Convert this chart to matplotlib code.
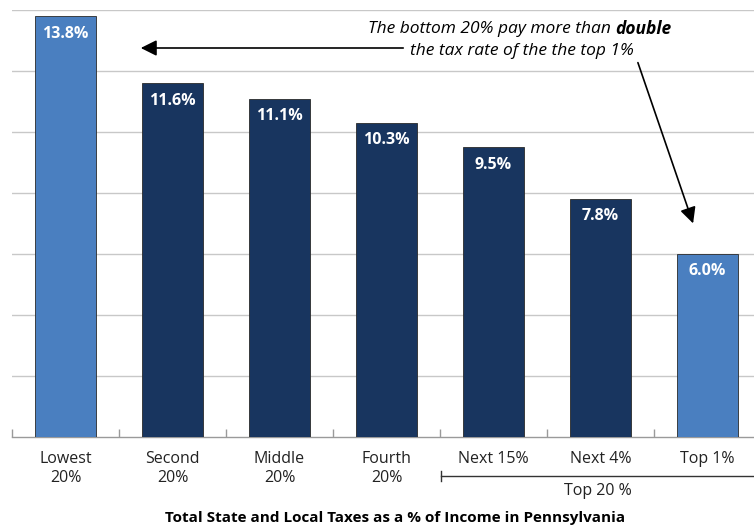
import numpy as np
import matplotlib
matplotlib.use("Agg")
import matplotlib.pyplot as plt

# data
categories = ["Lowest\n20%", "Second\n20%", "Middle\n20%", "Fourth\n20%",
              "Next 15%", "Next 4%", "Top 1%"]
tax_rates = [13.8, 11.6, 11.1, 10.3, 9.5, 7.8, 6.0]
highlight = [True, False, False, False, False, False, True]

LIGHT = "#4a7fc0"
DARK = "#18355f"

plt.rcParams["font.family"] = ["Open Sans", "DejaVu Sans"]

W, H = 754, 529
fig = plt.figure(figsize=(W / 100, H / 100), dpi=100)

# axes spans past the right edge, like the original
ax_left, ax_right = 12, 761
ax_bottom, ax_top = 436.7, 10.4   # pixel rows of 0% and 14%
ax = fig.add_axes([ax_left / W, (H - ax_bottom) / H,
                   (ax_right - ax_left) / W, (ax_bottom - ax_top) / H])

x = np.arange(len(categories))
colors = [LIGHT if h else DARK for h in highlight]
ax.bar(x, tax_rates, width=0.57, color=colors, edgecolor="#2a2a2a",
       linewidth=0.6, zorder=3)

for xi, v in zip(x, tax_rates):
    ax.text(xi, v - 0.3, f"{v:.1f}%", ha="center", va="top", color="white",
            fontsize=11.5, fontweight="bold", zorder=4)

ax.set_xlim(-0.5, len(categories) - 0.5)
ax.set_ylim(0, 14)
ax.set_yticks(np.arange(2, 15, 2))
ax.yaxis.grid(True, color="#c8c8c8", linewidth=1.0, zorder=0)
ax.tick_params(axis="y", length=0, labelleft=False)
for s in ["top", "right", "left"]:
    ax.spines[s].set_visible(False)
ax.spines["bottom"].set_color("#9a9a9a")
ax.spines["bottom"].set_linewidth(1.0)

ax.set_xticks(x)
ax.set_xticklabels(categories, fontsize=11.5, color="#222222", linespacing=1.3)
ax.tick_params(axis="x", which="major", length=0, pad=10)
ax.set_xticks(np.arange(-0.5, len(categories), 1), minor=True)
ax.tick_params(axis="x", which="minor", direction="in", length=6,
               color="#9a9a9a", width=1.0)


def px(xp):
    return (xp - ax_left) / 107.0 - 0.5


def py(yp):
    return (ax_bottom - yp) / 30.45


# callout arrows
ax.annotate("", xy=(px(138), py(48)), xytext=(px(406), py(48)),
            arrowprops=dict(arrowstyle="-|>", color="black", lw=1.2,
                            mutation_scale=24), zorder=5)
ax.annotate("", xy=(px(694), py(226)), xytext=(px(637), py(60)),
            arrowprops=dict(arrowstyle="-|>", color="black", lw=1.2,
                            mutation_scale=24), zorder=5)

# callout text, with "double" in bold
fs = 12.5
t1 = ax.text(0, py(29), "The bottom 20% pay more than ", ha="left",
             va="center", fontsize=fs, style="italic", zorder=5)
t2 = ax.text(0, py(29), "double", ha="left", va="center", fontsize=fs,
             style="italic", fontweight="bold", zorder=5)
fig.canvas.draw()
r = fig.canvas.get_renderer()
w1 = t1.get_window_extent(renderer=r).width
w2 = t2.get_window_extent(renderer=r).width
x0 = 520 - (w1 + w2) / 2
t1.set_x(px(x0))
t2.set_x(px(x0 + w1))
ax.text(px(522), py(51), "the tax rate of the the top 1%", ha="center",
        va="center", fontsize=fs, style="italic", zorder=5)

# "Top 20 %" bracket below the axis
ax.plot([px(441), 7.5], [py(476), py(476)], color="#333333", lw=1.0,
        clip_on=False)
ax.plot([px(441), px(441)], [py(471), py(481)], color="#333333", lw=1.0,
        clip_on=False)
ax.text(px(598), py(491), "Top 20 %", ha="center", va="center",
        fontsize=11.5, color="#222222")

fig.text(395 / W, (H - 518) / H,
         "Total State and Local Taxes as a % of Income in Pennsylvania",
         ha="center", va="center", fontsize=11, fontweight="bold")

fig.savefig("out.png", dpi=100)
